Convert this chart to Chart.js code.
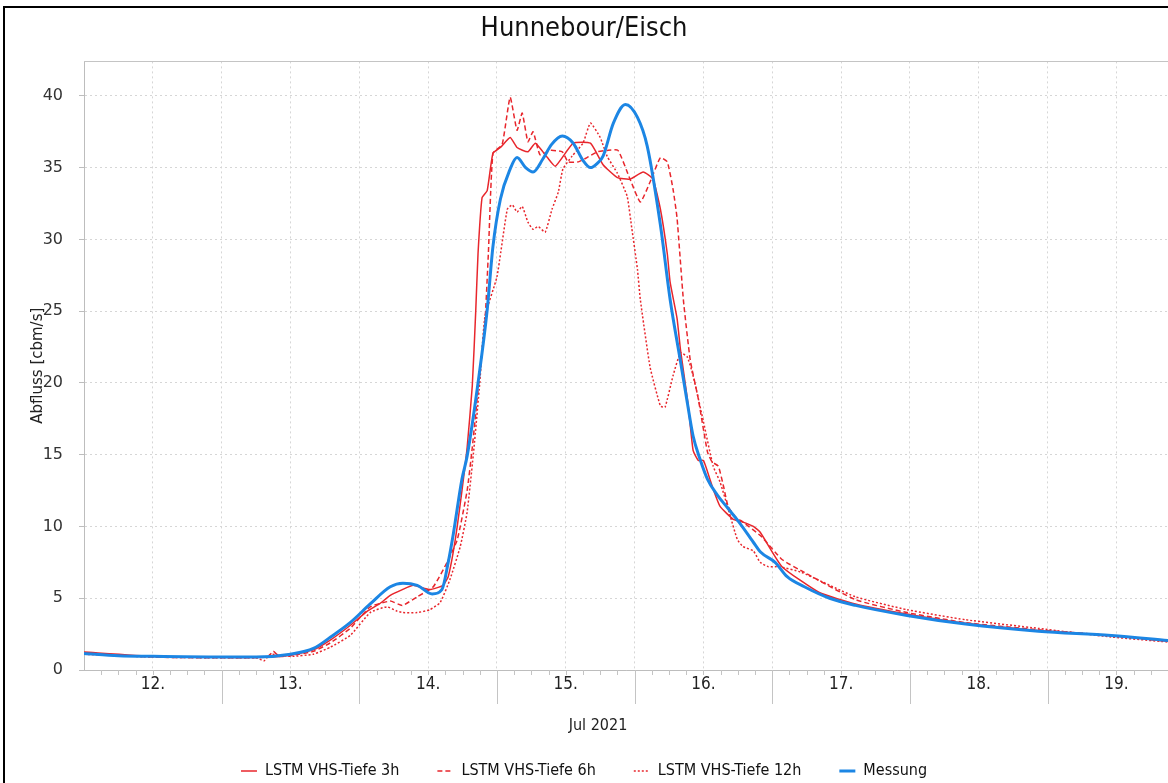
<!DOCTYPE html>
<html>
<head>
<meta charset="utf-8">
<script src="https://cdn.jsdelivr.net/npm/chart.js@4.4.1/dist/chart.umd.min.js"></script>
<style>
  html, body { margin: 0; padding: 0; background: #fff; }
  #wrap { position: relative; width: 1168px; height: 783px; overflow: hidden; background: #fff; }
  #frame { position: absolute; left: 3px; top: 6px; width: 1300px; height: 900px;
           border-left: 2px solid #000; border-top: 2px solid #000; pointer-events: none; }
  canvas { position: absolute; left: 0; top: 0; }
</style>
</head>
<body>
<div id="wrap">
  <canvas id="c" width="1168" height="783"></canvas>
  <div id="frame"></div>
</div>
<script>
// ---- Data (hours since 12 Jul 2021 00:00, Abfluss in cbm/s) ----
const chartTitle = 'Hunnebour/Eisch';
const yTitle = 'Abfluss [cbm/s]';
const xTitle = 'Jul 2021';
const firstDay = 12;
const seriesNames = ['LSTM VHS-Tiefe 3h', 'LSTM VHS-Tiefe 6h', 'LSTM VHS-Tiefe 12h', 'Messung'];

const hours3h = [0, 12, 24, 32, 36, 40, 43, 46.4, 49.4, 51.5, 53.4, 55.5, 57.4, 60.3, 62.6, 63.5, 64.7, 65.9, 66.8, 67.7, 68.3, 68.7, 69.4, 70.3, 71.3, 72.6, 74.3, 75.5, 77.4, 78.7, 80.8, 82.2, 85.3, 88.3, 90.5, 93.0, 95.2, 97.5, 99.2, 100.5, 101.7, 102.2, 103.4, 104.0, 105.3, 106.2, 107.1, 108.0, 109.2, 109.7, 110.9, 113.2, 114.9, 116.7, 117.9, 121.7, 128.2, 134.5, 143.5, 153.7, 166.4, 179.1, 189];
const values3h = [1.25, 0.95, 0.88, 0.9, 1.05, 1.4, 2.1, 3.1, 4.1, 4.6, 5.2, 5.6, 5.9, 5.6, 5.9, 6.5, 9.0, 12.5, 15.5, 19.8, 25.0, 29.0, 32.9, 33.4, 36.0, 36.4, 37.1, 36.4, 36.1, 36.7, 35.7, 35.1, 36.7, 36.7, 35.2, 34.3, 34.2, 34.7, 34.2, 32.1, 29.0, 27.0, 24.5, 22.3, 18.6, 15.3, 14.6, 14.6, 13.2, 12.6, 11.4, 10.5, 10.3, 10.0, 9.6, 7.2, 5.4, 4.6, 3.9, 3.25, 2.75, 2.4, 2.0];

const hours6h = [0, 12, 24, 32, 33, 34, 36, 40, 43, 46.4, 49.9, 53.4, 55.5, 58.1, 60.9, 63.3, 65.1, 66.8, 67.7, 68.7, 69.9, 70.5, 71.3, 72.9, 74.3, 75.5, 76.4, 77.4, 78.3, 79.5, 81.3, 83.4, 84.4, 86.2, 87.7, 89.5, 91.2, 93.1, 95.2, 97.0, 98.7, 100.5, 101.7, 102.7, 103.4, 104.5, 105.7, 107.1, 108.7, 109.5, 110.6, 111.5, 112.3, 113.5, 114.9, 118.1, 121.7, 125.6, 134.5, 143.5, 153.7, 166.4, 179.1, 189];
const values6h = [1.2, 0.9, 0.85, 0.9, 1.3, 0.95, 1.0, 1.3, 1.9, 2.9, 4.4, 4.8, 4.5, 5.1, 5.8, 7.5, 9.1, 12.5, 15.5, 19.5, 24.2, 29.0, 36.0, 36.6, 39.9, 37.6, 38.8, 36.8, 37.5, 35.9, 36.2, 36.1, 35.4, 35.4, 35.7, 36.1, 36.2, 36.2, 34.2, 32.6, 34.0, 35.7, 35.4, 33.5, 31.5, 25.8, 21.6, 18.9, 15.2, 14.5, 14.2, 12.8, 11.4, 10.7, 10.3, 9.3, 7.7, 6.8, 4.9, 4.0, 3.3, 2.8, 2.4, 2.0];

const hours12h = [0, 12, 24, 30, 31.4, 32.5, 36, 40, 43, 46.4, 49.9, 52.8, 54.6, 55.6, 58.1, 60.3, 62.1, 63.8, 65.6, 66.8, 68.0, 69.0, 69.9, 72.0, 73.8, 74.7, 75.5, 76.4, 77.4, 78.3, 79.2, 80.4, 81.6, 82.7, 83.5, 85.1, 87.0, 88.3, 90.0, 91.2, 93.0, 94.7, 95.5, 96.5, 97.0, 98.7, 100.5, 101.3, 102.7, 104.0, 105.2, 106.2, 108.0, 109.7, 110.9, 112.7, 113.9, 114.9, 116.7, 117.9, 119.3, 121.2, 125.1, 134.5, 143.5, 153.7, 166.4, 179.1, 189];
const values12h = [1.1, 0.9, 0.85, 0.85, 0.65, 1.1, 0.95, 1.1, 1.6, 2.4, 4.0, 4.4, 4.1, 4.0, 4.0, 4.2, 4.7, 6.3, 8.6, 11.0, 15.5, 20.0, 24.6, 27.4, 32.1, 32.4, 31.9, 32.3, 31.2, 30.7, 30.9, 30.5, 32.1, 33.3, 34.9, 35.8, 36.7, 38.1, 37.1, 35.8, 34.6, 33.0, 30.8, 27.9, 25.8, 21.1, 18.4, 18.3, 20.5, 22.1, 21.8, 20.5, 17.3, 14.2, 13.1, 10.7, 9.1, 8.6, 8.3, 7.5, 7.2, 7.2, 6.8, 5.1, 4.2, 3.5, 2.9, 2.3, 1.95];

const hoursMessung = [0, 6, 12, 24, 30, 36, 40, 43, 46.4, 49.9, 53.4, 55.6, 58.1, 60.7, 62.4, 63.5, 64.4, 65.9, 66.8, 68.7, 70.3, 71.3, 72.6, 74.3, 75.5, 77.0, 78.3, 80.0, 81.5, 83.4, 85.3, 87.0, 88.3, 89.5, 90.5, 92.3, 94.4, 96.5, 98.2, 100.5, 102.2, 104.0, 105.2, 106.2, 107.4, 108.7, 110.4, 112.2, 114.4, 116.7, 118.0, 120.5, 122.6, 125.6, 130, 134.5, 143.5, 153.7, 166.4, 179.1, 189];
const valuesMessung = [1.15, 1.0, 0.95, 0.9, 0.9, 1.1, 1.5, 2.3, 3.3, 4.6, 5.8, 6.05, 5.9, 5.3, 5.6, 7.5, 9.5, 13.3, 14.9, 20.0, 25.1, 29.5, 32.8, 34.9, 35.7, 35.0, 34.7, 35.6, 36.6, 37.2, 36.7, 35.5, 35.0, 35.3, 35.8, 38.1, 39.4, 38.5, 36.5, 31.0, 25.8, 21.5, 18.6, 16.3, 14.7, 13.3, 12.2, 11.3, 10.2, 8.9, 8.2, 7.5, 6.5, 5.8, 5.0, 4.5, 3.8, 3.2, 2.7, 2.4, 2.05];

const xMin = 0, xMax = 189, xStep = 12;
const yMin = 0, yMax = 42.4, yStep = 5;

const RED = 'rgb(232,38,44)';
const BLUE = 'rgb(28,134,228)';

function pts(hs, vs) { return hs.map((h, i) => ({ x: h, y: vs[i] })); }

const NARROW = '"DejaVu Sans Condensed", "Liberation Sans Narrow", "Liberation Sans", sans-serif';
const WIDE = '"DejaVu Sans", sans-serif';

const axisDecor = {
  id: 'axisDecor',
  afterDraw(chart) {
    const { ctx, chartArea: a, scales: { x } } = chart;
    ctx.save();
    ctx.strokeStyle = '#c4c4c4';
    ctx.lineWidth = 1;
    ctx.beginPath();
    ctx.moveTo(a.left, Math.round(a.top) + 0.5);
    ctx.lineTo(a.right, Math.round(a.top) + 0.5);
    for (let h = 24; h < x.max; h += 24) {
      const px = Math.round(x.getPixelForValue(h)) + 0.5;
      ctx.moveTo(px, a.bottom);
      ctx.lineTo(px, a.bottom + 34);
    }
    for (let h = 3; h < x.max; h += 3) {
      const px = Math.round(x.getPixelForValue(h)) + 0.5;
      ctx.moveTo(px, a.bottom);
      ctx.lineTo(px, a.bottom + 5);
    }
    ctx.stroke();
    ctx.fillStyle = '#222';
    ctx.font = '16px ' + NARROW;
    ctx.textAlign = 'center';
    ctx.textBaseline = 'middle';
    ctx.fillText(xTitle, (a.left + a.right) / 2 - 28, a.bottom + 56);
    ctx.restore();
  }
};

const ctx = document.getElementById('c').getContext('2d');
new Chart(ctx, {
  type: 'line',
  data: {
    datasets: [
      { label: seriesNames[0], data: pts(hours3h, values3h), borderColor: RED, backgroundColor: RED, borderWidth: 1.5, pointRadius: 0, tension: 0.15 },
      { label: seriesNames[1], data: pts(hours6h, values6h), borderColor: RED, backgroundColor: RED, borderWidth: 1.5, borderDash: [5, 3], pointRadius: 0, tension: 0.15 },
      { label: seriesNames[2], data: pts(hours12h, values12h), borderColor: RED, backgroundColor: RED, borderWidth: 1.5, borderDash: [2, 2], pointRadius: 0, tension: 0.15 },
      { label: seriesNames[3], data: pts(hoursMessung, valuesMessung), borderColor: BLUE, backgroundColor: BLUE, borderWidth: 3, pointRadius: 0, cubicInterpolationMode: 'monotone', order: -1 }
    ]
  },
  options: {
    responsive: false,
    animation: false,
    layout: { padding: { left: 0, right: 0, top: 0, bottom: -6 } },
    plugins: {
      title: {
        display: true, text: chartTitle, color: '#111',
        font: { family: NARROW, size: 27, weight: 'normal' },
        padding: { top: 13, bottom: 16 }
      },
      legend: {
        position: 'bottom',
        labels: {
          usePointStyle: true, pointStyle: 'line', pointStyleWidth: 16,
          color: '#111', padding: 38,
          font: { family: NARROW, size: 16 },
          sort: (a, b) => a.datasetIndex - b.datasetIndex,
          generateLabels: (chart) => {
            const items = Chart.defaults.plugins.legend.labels.generateLabels(chart);
            return items.map((it) => {
              const ds = chart.data.datasets[it.datasetIndex];
              it.lineDash = ds.borderDash ? ds.borderDash.slice() : [];
              it.lineWidth = ds.borderWidth;
              it.strokeStyle = ds.borderColor;
              it.pointStyle = 'line';
              return it;
            });
          }
        }
      },
      tooltip: { enabled: false }
    },
    scales: {
      x: {
        type: 'linear', min: xMin, max: xMax,
        afterFit: (s) => { s.height = 55; },
        ticks: {
          stepSize: xStep, includeBounds: false, autoSkip: false, maxRotation: 0, padding: 4,
          color: '#222', font: { family: NARROW, size: 17 },
          callback: (v) => (v % 24 === 12 ? (firstDay + Math.floor(v / 24)) + '.' : '')
        },
        grid: { color: '#d6d6d6', lineWidth: 1, drawTicks: false },
        border: { display: true, color: '#bdbdbd', width: 1, dash: [2, 3] }
      },
      y: {
        min: yMin, max: yMax,
        afterFit: (s) => { s.width = 84; },
        ticks: { stepSize: yStep, includeBounds: false, padding: 16, color: '#333', font: { family: WIDE, size: 16 } },
        grid: { color: '#d6d6d6', lineWidth: 1, drawTicks: true, tickLength: 5, tickColor: '#bdbdbd' },
        border: { display: true, color: '#bdbdbd', width: 1, dash: [2, 3] },
        title: { display: true, text: yTitle, color: '#222', font: { family: WIDE, size: 15 }, padding: { top: 29, bottom: 0 } }
      }
    }
  },
  plugins: [axisDecor]
});
</script>
</body>
</html>
